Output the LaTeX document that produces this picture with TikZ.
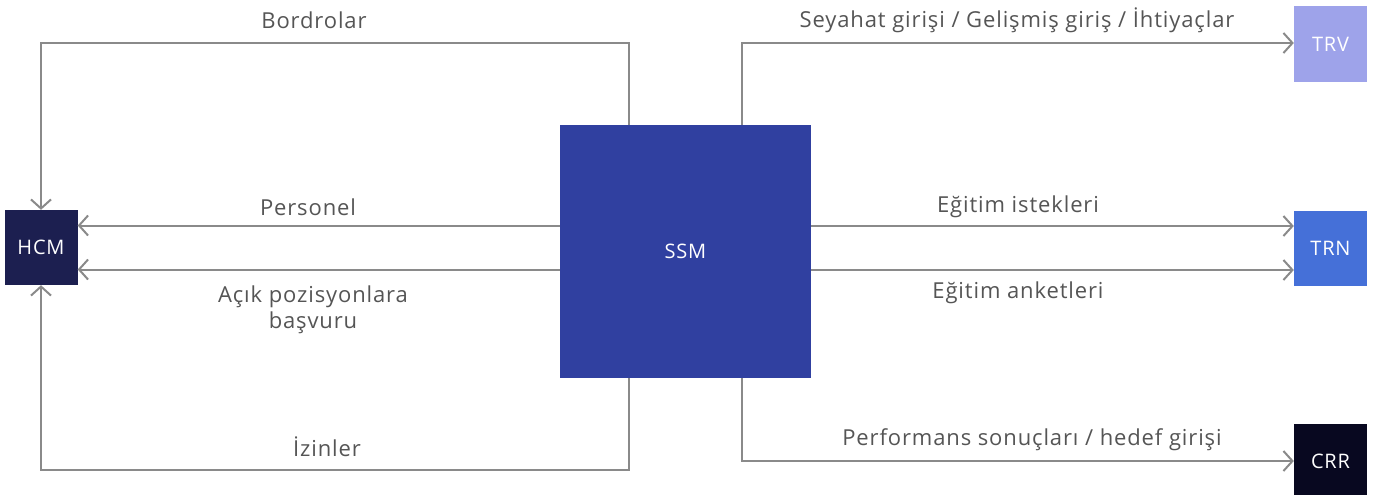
\documentclass[tikz,border=0pt]{standalone}
\usepackage{fontspec}
\setmainfont{Open Sans}
\newfontfamily\lblfont[LetterSpace=4]{Open Sans}
\usetikzlibrary{arrows.meta,positioning}
\definecolor{cline}{HTML}{8A8A8A}
\definecolor{ctext}{HTML}{555555}
\definecolor{chcm}{HTML}{1C1F50}
\definecolor{cssm}{HTML}{3040A0}
\definecolor{ctrv}{HTML}{9EA3EA}
\definecolor{ctrn}{HTML}{4570D8}
\definecolor{ccrr}{HTML}{080820}
\tikzset{
  sysbox/.style={draw=none, text=white, minimum width=73pt, minimum height=75pt, inner sep=0pt, font=\lblfont\fontsize{20}{22}\selectfont},
  conn/.style={draw=cline, line width=2pt, -{Straight Barb[length=9pt,width=20pt,line width=2pt]}},
  lbl/.style={text=ctext, font=\lblfont\fontsize{22}{26}\selectfont, align=center, inner sep=0pt}
}
\begin{document}
\begin{tikzpicture}[x=1pt,y=1pt]
\useasboundingbox (0,0) rectangle (1373,-495);
\node[sysbox, fill=chcm] (HCM) at (41,-247.5) {HCM};
\node[sysbox, fill=cssm, minimum width=251pt, minimum height=253pt] (SSM) at (685.5,-251.5) {SSM};
\node[sysbox, fill=ctrv] (TRV) at (1330.5,-44) {TRV};
\node[sysbox, fill=ctrn] (TRN) at (1330.5,-248) {TRN};
\node[sysbox, fill=ccrr] (CRR) at (1330.5,-461) {CRR};

\coordinate (bl) at (629,-43);
\coordinate (il) at (629,-470);
\coordinate (sr) at (742,-43);
\coordinate (pr) at (742,-461);

% top-left: Bordrolar
\draw[conn] (SSM.north -| bl) -- (bl) -| (HCM.north);
% bottom-left: Izinler
\draw[conn] (SSM.south -| il) -- (il) -| (HCM.south);
% left horizontals
\draw[conn] ([yshift=22pt]HCM.east -| SSM.west) -- ([yshift=22pt]HCM.east);
\draw[conn] ([yshift=-22pt]HCM.east -| SSM.west) -- ([yshift=-22pt]HCM.east);
% top-right: Seyahat
\draw[conn] (SSM.north -| sr) -- (sr) -- (sr -| TRV.west);
% right horizontals
\draw[conn] ([yshift=22pt]TRN.west -| SSM.east) -- ([yshift=22pt]TRN.west);
\draw[conn] ([yshift=-22pt]TRN.west -| SSM.east) -- ([yshift=-22pt]TRN.west);
% bottom-right: Performans
\draw[conn] (SSM.south -| pr) -- (pr) -- (pr -| CRR.west);

\node[lbl] (l1) at (314,-20) {Bordrolar};
\node[lbl] (l2) at (308,-207) {Personel};
\node[lbl] (l3) at (313,-310) {Açık pozisyonlara\\başvuru};
\node[lbl] (l4) at (327,-447) {İzinler};
\node[lbl] (l5) at (1017,-20) {Seyahat girişi / Gelişmiş giriş / İhtiyaçlar};
\node[lbl] (l6) at (1018,-207) {Eğitim istekleri};
\node[lbl] (l7) at (1018,-293) {Eğitim anketleri};
\node[lbl] (l8) at (1032,-440) {Performans sonuçları / hedef girişi};
\end{tikzpicture}
\end{document}
